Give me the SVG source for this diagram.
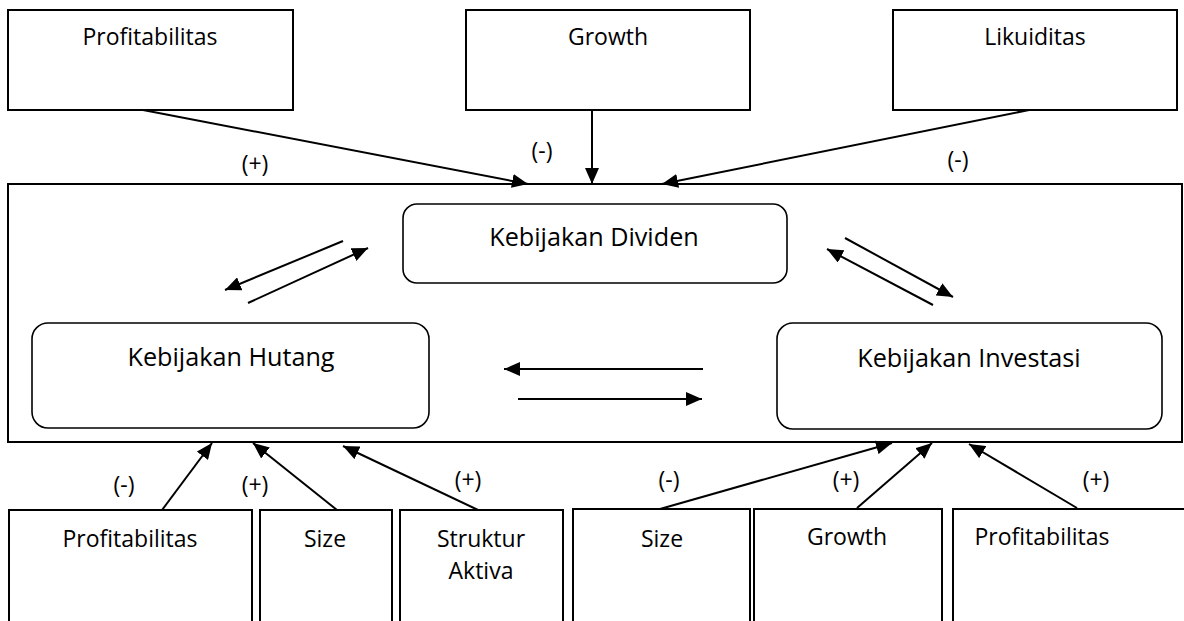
<svg xmlns="http://www.w3.org/2000/svg" width="1184" height="621" viewBox="0 0 1184 621">
<style>
.box{fill:#fff;stroke:#000;stroke-width:2}
.rbox{fill:#fff;stroke:#000;stroke-width:1.6}
.t{font-family:"Open Sans","Liberation Sans",sans-serif;font-size:23px;fill:#000;text-anchor:middle}
.tb{font-family:"Open Sans","Liberation Sans",sans-serif;font-size:25.2px;fill:#000;text-anchor:middle}
.c{stroke:#000;stroke-width:2;fill:none;marker-end:url(#ah)}
</style>
<defs>
<marker id="ah" viewBox="0 0 16 14" refX="16" refY="7" markerWidth="16" markerHeight="14" markerUnits="userSpaceOnUse" orient="auto">
<path d="M0,0 L16,7 L0,14 z" fill="#000"/>
</marker>
</defs>
<rect width="1184" height="621" fill="#fff"/>

<g id="frame"><rect class="box" x="8" y="184" width="1174" height="258"/></g>

<g id="top-profitabilitas"><rect class="box" x="8" y="10" width="285" height="100"/><text class="t" x="150" y="45">Profitabilitas</text></g>
<g id="top-growth"><rect class="box" x="466" y="10" width="284" height="100"/><text class="t" x="608" y="45">Growth</text></g>
<g id="top-likuiditas"><rect class="box" x="893" y="10" width="284" height="100"/><text class="t" x="1035" y="45">Likuiditas</text></g>

<g id="dividen"><rect class="rbox" x="403" y="204" width="384" height="79" rx="14"/><text class="tb" x="594" y="246">Kebijakan Dividen</text></g>
<g id="hutang"><rect class="rbox" x="32" y="323" width="397" height="105" rx="16"/><text class="tb" x="231" y="366">Kebijakan Hutang</text></g>
<g id="investasi"><rect class="rbox" x="777" y="323" width="385" height="106" rx="16"/><text class="tb" x="969" y="367">Kebijakan Investasi</text></g>

<g id="bot-profitabilitas"><rect class="box" x="9" y="510" width="243" height="130"/><text class="t" x="130" y="547">Profitabilitas</text></g>
<g id="bot-size1"><rect class="box" x="260" y="510" width="132" height="130"/><text class="t" x="325" y="547">Size</text></g>
<g id="bot-struktur"><rect class="box" x="400" y="510" width="163" height="130"/><text class="t" x="481" y="547">Struktur</text><text class="t" x="481" y="579">Aktiva</text></g>
<g id="bot-size2"><rect class="box" x="573" y="509" width="177" height="130"/><text class="t" x="662" y="547">Size</text></g>
<g id="bot-growth"><rect class="box" x="754" y="509" width="188" height="130"/><text class="t" x="847" y="545">Growth</text></g>
<g id="bot-profitabilitas2"><rect class="box" x="953" y="509" width="245" height="130"/><text class="t" x="1042" y="545">Profitabilitas</text></g>

<g id="connectors">
<line class="c" x1="143" y1="110" x2="528" y2="184"/>
<line class="c" x1="592" y1="110" x2="592" y2="184"/>
<line class="c" x1="1029" y1="110" x2="662" y2="184"/>

<line class="c" x1="343" y1="241" x2="225" y2="290"/>
<line class="c" x1="248" y1="303" x2="368" y2="248"/>
<line class="c" x1="845" y1="238" x2="953" y2="297"/>
<line class="c" x1="933" y1="305" x2="827" y2="249"/>
<line class="c" x1="703" y1="369" x2="504" y2="369"/>
<line class="c" x1="518" y1="399" x2="702" y2="399"/>

<line class="c" x1="162" y1="510" x2="212" y2="443"/>
<line class="c" x1="337" y1="510" x2="253" y2="443"/>
<line class="c" x1="478" y1="510" x2="343" y2="446"/>
<line class="c" x1="660" y1="509" x2="892" y2="443"/>
<line class="c" x1="857" y1="508" x2="932" y2="443"/>
<line class="c" x1="1077" y1="508" x2="969" y2="444"/>
</g>

<g id="labels">
<text class="t" x="255" y="172">(+)</text>
<text class="t" x="542" y="159">(-)</text>
<text class="t" x="958" y="168">(-)</text>
<text class="t" x="124" y="493">(-)</text>
<text class="t" x="255" y="493">(+)</text>
<text class="t" x="468" y="488">(+)</text>
<text class="t" x="669" y="488">(-)</text>
<text class="t" x="846" y="488">(+)</text>
<text class="t" x="1096" y="488">(+)</text>
</g>
</svg>
